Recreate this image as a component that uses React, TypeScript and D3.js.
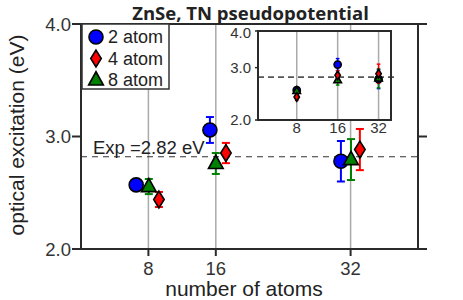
import React from "react";
import * as d3 from "d3";

const atoms = [8, 16, 32];
const seriesNames = ["2 atom", "4 atom", "8 atom"];
// plotted x positions (slightly offset around each size)
const xTwo = [6.55, 15.3, 30.85];
const xFour = [9.25, 17.2, 33.1];
const xEight = [8.05, 16.0, 32.05];
// optical excitation (eV)
const yTwo = [2.57, 3.058, 2.78];
const yFour = [2.44, 2.853, 2.884];
const yEight = [2.555, 2.76, 2.795];
// error bar half-widths (eV)
const eTwo = [0, 0.115, 0.18];
const eFour = [0.067, 0.09, 0.183];
const eEight = [0.067, 0.093, 0.182];
const yTicks = [2, 3, 4];
const yTickLabels = ["2.0", "3.0", "4.0"];
const insetYTicks = [2, 3, 3.7];
const expValue = 2.82;

const W = 463, H = 300;
const FONT = "'Liberation Sans', Arial, Helvetica, sans-serif";

type Kind = "circle" | "diamond" | "triangle";
const colors: Record<Kind, string> = { circle: "#0000ff", diamond: "#ff0000", triangle: "#008000" };

function Marker({ kind, x, y, s }: { kind: Kind; x: number; y: number; s: number }) {
  const fill = colors[kind];
  if (kind === "circle") return <circle cx={x} cy={y} r={s} fill={fill} stroke="#000" strokeWidth={1.6} />;
  if (kind === "diamond") {
    const w = s * 0.75, h = s * 1.2;
    return <path d={`M${x},${y - h}L${x + w},${y}L${x},${y + h}L${x - w},${y}Z`} fill={fill} stroke="#000" strokeWidth={1.6} />;
  }
  const h = s * 1.9, w = s * 1.05;
  return <path d={`M${x},${y - h * 0.62}L${x + w},${y + h * 0.38}L${x - w},${y + h * 0.38}Z`} fill={fill} stroke="#000" strokeWidth={1.6} />;
}

export default function App() {
  const L = 81, R = 418, T = 24, B = 249;
  const x = d3.scaleLinear().domain([0, 40]).range([L, R]);
  const y = d3.scaleLinear().domain([2, 4]).range([B, T]);

  const iL = 258, iR = 391, iT = 31, iB = 120;
  const ix = d3.scaleLog().base(2).domain([4.15, 39.5]).range([iL, iR]);
  const iy = d3.scaleLinear().domain([2, 3.7]).range([iB, iT]);

  const series: { kind: Kind; xs: number[]; ys: number[]; es: number[] }[] = [
    { kind: "circle", xs: xTwo, ys: yTwo, es: eTwo },
    { kind: "triangle", xs: xEight, ys: yEight, es: eEight },
    { kind: "diamond", xs: xFour, ys: yFour, es: eFour },
  ];
  const legendKinds: Kind[] = ["circle", "diamond", "triangle"];

  const err = (cx: number, cy0: number, cy1: number, col: string, cap: number, sw: number, key: string) => (
    <g key={key} stroke={col} strokeWidth={sw}>
      <line x1={cx} x2={cx} y1={cy0} y2={cy1} />
      <line x1={cx - cap} x2={cx + cap} y1={cy0} y2={cy0} />
      <line x1={cx - cap} x2={cx + cap} y1={cy1} y2={cy1} />
    </g>
  );

  return (
    <svg width={W} height={H} style={{ position: "absolute", left: 0, top: 0, background: "#fff" }} fontFamily={FONT}>
      <rect width={W} height={H} fill="#fff" />
      {/* grid */}
      {atoms.map((a) => (
        <line key={"g" + a} x1={x(a)} x2={x(a)} y1={T} y2={B} stroke="#aaa" strokeWidth={1.5} />
      ))}
      {/* exp line */}
      <line x1={L} x2={R} y1={y(expValue)} y2={y(expValue)} stroke="#333" strokeWidth={1.2} strokeDasharray="6,5" />
      <text x={93} y={y(expValue) - 3} fontSize={18.5} fill="#222">Exp ={expValue.toFixed(2)} eV</text>
      {/* frame */}
      <rect x={L} y={T} width={R - L} height={B - T} fill="none" stroke="#2a2a2a" strokeWidth={2} />
      {yTicks.map((t, i) => (
        <g key={"yt" + t}>
          <line x1={L - 9} x2={L} y1={y(t)} y2={y(t)} stroke="#2a2a2a" strokeWidth={2} />
          <line x1={R} x2={R + 9} y1={y(t)} y2={y(t)} stroke="#2a2a2a" strokeWidth={2} />
          <text x={71} y={y(t) + 6.5} textAnchor="end" fontSize={18.5} fill="#333">{yTickLabels[i]}</text>
        </g>
      ))}
      {atoms.map((a) => (
        <g key={"xt" + a}>
          <line x1={x(a)} x2={x(a)} y1={B} y2={B + 7} stroke="#2a2a2a" strokeWidth={2} />
          <text x={x(a)} y={275} textAnchor="middle" fontSize={18.5} fill="#333">{a}</text>
        </g>
      ))}
      <text x={244} y={296} textAnchor="middle" fontSize={21} fill="#222">number of atoms</text>
      <text transform={`translate(24,135) rotate(-90)`} textAnchor="middle" fontSize={21} fill="#222">optical excitation (eV)</text>
      <text x={250.5} y={19.5} textAnchor="middle" fontSize={18.5} fontWeight="bold" fontFamily="'Open Sans', sans-serif" fill="#222">ZnSe, TN pseudopotential</text>

      {/* main data */}
      {series.map((s) =>
        s.xs.map((xv, i) =>
          s.es[i] > 0 ? err(x(xv), y(s.ys[i] + s.es[i]), y(s.ys[i] - s.es[i]), colors[s.kind], 4, 2, s.kind + "e" + i) : null
        )
      )}
      {series.map((s) =>
        s.xs.map((xv, i) => <Marker key={s.kind + "m" + i} kind={s.kind} x={x(xv)} y={y(s.ys[i])} s={7} />)
      )}

      {/* legend */}
      <rect x={82} y={24} width={87} height={65} fill="#fff" stroke="#333" strokeWidth={1.5} />
      {legendKinds.map((k, i) => (
        <g key={"lg" + k}>
          <Marker kind={k} x={96} y={37 + i * 21.5} s={7} />
          <text x={108} y={43 + i * 21.5} fontSize={18} fill="#222">{seriesNames[i]}</text>
        </g>
      ))}

      {/* inset */}
      <rect x={iL} y={iT} width={iR - iL} height={iB - iT} fill="#fff" />
      {atoms.map((a) => (
        <g key={"ig" + a}>
          <line x1={ix(a)} x2={ix(a)} y1={iT} y2={iB} stroke="#aaa" strokeWidth={1.5} />
          <text x={ix(a)} y={iB + 13} textAnchor="middle" fontSize={15} fill="#333">{a}</text>
        </g>
      ))}
      <line x1={iL} x2={iR + 3} y1={iy(expValue)} y2={iy(expValue)} stroke="#555" strokeWidth={1.8} strokeDasharray="6,4" />
      {series.map((s) =>
        atoms.map((a, i) =>
          s.es[i] > 0 ? err(ix(a), iy(s.ys[i] + s.es[i]), iy(s.ys[i] - s.es[i]), colors[s.kind], 1.8, 1.5, "i" + s.kind + "e" + i) : null
        )
      )}
      {series.map((s) =>
        atoms.map((a, i) => <Marker key={"i" + s.kind + "m" + i} kind={s.kind} x={ix(a)} y={iy(s.ys[i])} s={3.6} />)
      )}
      <rect x={iL} y={iT} width={iR - iL} height={iB - iT} fill="none" stroke="#2a2a2a" strokeWidth={2} />
      {insetYTicks.map((t, i) => (
        <g key={"iyt" + t}>
          <line x1={iL - 3} x2={iL} y1={iy(t)} y2={iy(t)} stroke="#2a2a2a" strokeWidth={1.5} />
          <text x={251} y={iy(t) + (i === 2 ? 7 : 5)} textAnchor="end" fontSize={15} fill="#333">{yTickLabels[i]}</text>
        </g>
      ))}
    </svg>
  );
}
